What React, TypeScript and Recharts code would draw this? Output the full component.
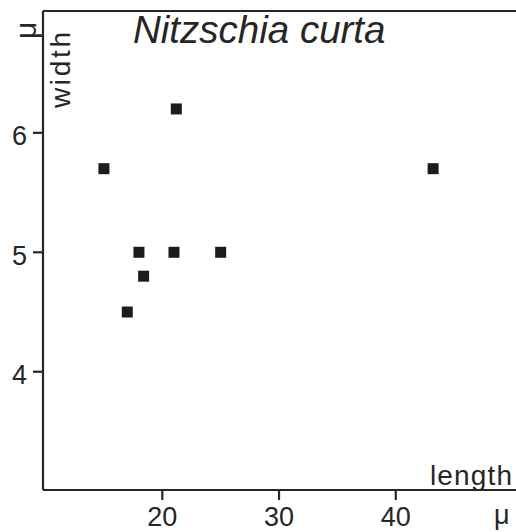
import React from 'react';
import { ScatterChart, Scatter, XAxis, YAxis, ReferenceLine } from 'recharts';

// length (μ) and width (μ) of the measured valves
const lengths = [15, 18, 18.4, 17, 21, 25, 21.2, 43.2];
const widths = [5.7, 5.0, 4.8, 4.5, 5.0, 5.0, 6.2, 5.7];

const xTicks = [20, 30, 40];
const yTicks = [4, 5, 6];

const INK = '#262626';
const FONT = '"Liberation Sans", Arial, sans-serif';

const data = lengths.map((l, i) => ({ length: l, width: widths[i] }));

const SquareMark = (props: any) => {
  const { cx, cy } = props;
  return <rect x={cx - 5.5} y={cy - 5.5} width={11} height={11} fill="#1c1c1c" />;
};

const App: React.FC = () => {
  return (
    <div style={{ position: 'absolute', left: 0, top: 0, width: 516, height: 532, background: '#fff', fontFamily: FONT }}>
      <ScatterChart width={516} height={532} margin={{ top: 11, right: 0, bottom: 0, left: 0 }}>
        <XAxis
          type="number"
          dataKey="length"
          domain={[9.78, 50.3]}
          allowDataOverflow
          ticks={xTicks}
          interval={0}
          height={42}
          tickSize={10}
          tickMargin={7}
          axisLine={{ stroke: INK, strokeWidth: 2.2 }}
          tickLine={{ stroke: INK, strokeWidth: 2.2 }}
          tick={{ fill: INK, fontSize: 27, fontFamily: FONT }}
        />
        <YAxis
          type="number"
          dataKey="width"
          domain={[3.01, 7.02]}
          allowDataOverflow
          ticks={yTicks}
          interval={0}
          width={43}
          tickSize={10}
          tickMargin={6}
          axisLine={{ stroke: INK, strokeWidth: 2.2 }}
          tickLine={{ stroke: INK, strokeWidth: 2.2 }}
          tick={{ fill: INK, fontSize: 27, fontFamily: FONT, dy: 3 }}
        />
        <ReferenceLine y={7.02} stroke={INK} strokeWidth={2.2} />
        <Scatter data={data} shape={SquareMark} isAnimationActive={false} />
      </ScatterChart>
      <svg width={516} height={532} style={{ position: 'absolute', left: 0, top: 0, pointerEvents: 'none' }}>
        <text x={133} y={43} fontSize={38.5} fontStyle="italic" fill={INK} fontFamily={FONT}>
          Nitzschia curta
        </text>
        <text
          transform="translate(70,108) rotate(-90)"
          fontSize={28}
          textLength={76}
          lengthAdjust="spacing"
          fill={INK}
          fontFamily={FONT}
        >
          width
        </text>
        <text transform="translate(36,39) rotate(-90)" fontSize={30} fill={INK} fontFamily={FONT}>
          μ
        </text>
        <text x={430} y={485} fontSize={28} textLength={82} lengthAdjust="spacing" fill={INK} fontFamily={FONT}>
          length
        </text>
        <text x={494} y={524} fontSize={27} fill={INK} fontFamily={FONT}>
          μ
        </text>
      </svg>
    </div>
  );
};

export default App;
